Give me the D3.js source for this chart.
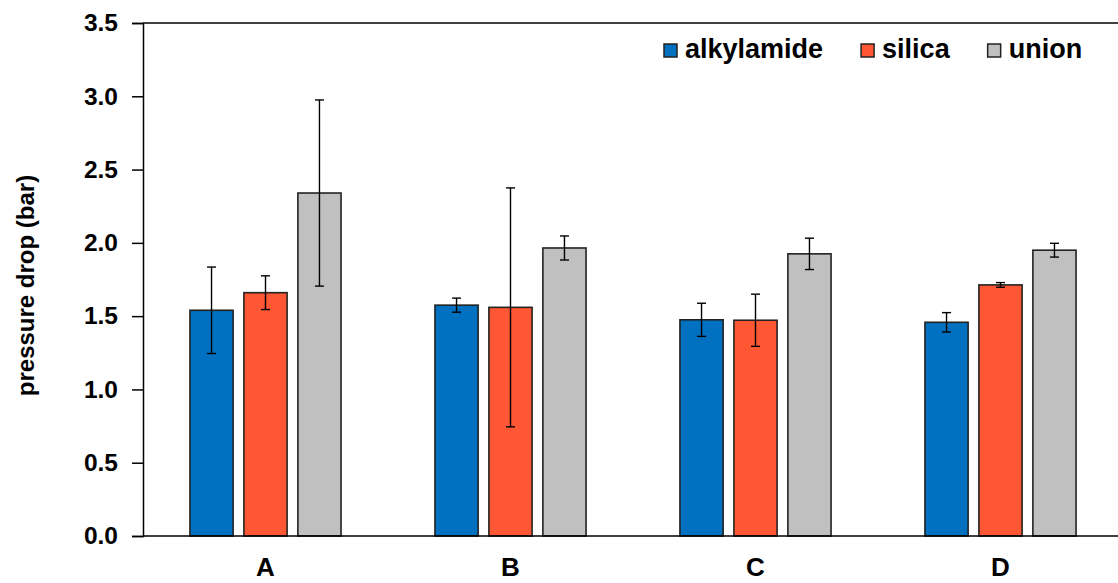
<!DOCTYPE html>
<html>
<head>
<meta charset="utf-8">
<script src="https://cdn.jsdelivr.net/npm/d3@7"></script>
<style>
  html, body { margin: 0; padding: 0; background: #fff; }
  svg { display: block; font-family: Arial, "Liberation Sans", sans-serif; font-weight: bold; }
</style>
</head>
<body>
<svg id="chart" width="1118" height="583"></svg>
<script>
// Pressure drop per column, mean and error (bar)
const categories = ["A", "B", "C", "D"];
const series = ["alkylamide", "silica", "union"];
const alkylamide = [1.54, 1.575, 1.475, 1.458];
const silica     = [1.66, 1.56, 1.472, 1.713];
const union      = [2.34, 1.965, 1.925, 1.95];
const alkylamideErr = [0.295, 0.048, 0.113, 0.066];
const silicaErr     = [0.115, 0.815, 0.178, 0.016];
const unionErr      = [0.635, 0.082, 0.107, 0.047];
const yTicks = [0, 0.5, 1.0, 1.5, 2.0, 2.5, 3.0, 3.5];
const colors = ["#0070C0", "#FF5733", "#C0C0C0"];

const valuesBySeries = [alkylamide, silica, union];
const errBySeries = [alkylamideErr, silicaErr, unionErr];

const svg = d3.select("#chart");
const plotLeft = 143, plotRight = 1123, plotTop = 23, plotBottom = 536;

const x0 = d3.scaleBand().domain(categories).range([plotLeft, plotRight]).padding(0);
const x1 = d3.scaleBand().domain(series).range([0, x0.bandwidth()])
  .paddingInner(0.2).paddingOuter(0.87);
const y = d3.scaleLinear().domain([0, 3.5]).range([plotBottom, plotTop]);

// frame: top border
svg.append("line").attr("x1", plotLeft).attr("x2", 1118).attr("y1", plotTop).attr("y2", plotTop)
  .attr("stroke", "#000").attr("stroke-width", 1.5);

// bars
const rows = [];
categories.forEach((c, i) => {
  series.forEach((s, j) => {
    rows.push({ cat: c, ser: s, j, v: valuesBySeries[j][i], e: errBySeries[j][i] });
  });
});

svg.append("g").selectAll("rect").data(rows).join("rect")
  .attr("x", d => x0(d.cat) + x1(d.ser))
  .attr("y", d => y(d.v))
  .attr("width", x1.bandwidth())
  .attr("height", d => y(0) - y(d.v))
  .attr("fill", d => colors[d.j])
  .attr("stroke", "#222")
  .attr("stroke-width", 1.6);

// error bars
const eb = svg.append("g").attr("stroke", "#000").attr("stroke-width", 1.4);
const cx = d => x0(d.cat) + x1(d.ser) + x1.bandwidth() / 2;
eb.selectAll("line.v").data(rows).join("line").attr("class", "v")
  .attr("x1", cx).attr("x2", cx)
  .attr("y1", d => y(d.v + d.e)).attr("y2", d => y(d.v - d.e));
eb.selectAll("line.t").data(rows).join("line").attr("class", "t")
  .attr("x1", d => cx(d) - 4.5).attr("x2", d => cx(d) + 4.5)
  .attr("y1", d => y(d.v + d.e)).attr("y2", d => y(d.v + d.e));
eb.selectAll("line.b").data(rows).join("line").attr("class", "b")
  .attr("x1", d => cx(d) - 4.5).attr("x2", d => cx(d) + 4.5)
  .attr("y1", d => y(d.v - d.e)).attr("y2", d => y(d.v - d.e));

// y axis
const yAxis = svg.append("g").attr("transform", `translate(${plotLeft},0)`)
  .call(d3.axisLeft(y).tickValues(yTicks).tickFormat(d3.format(".1f"))
    .tickSize(11).tickPadding(14));
yAxis.select(".domain").attr("stroke", "#000").attr("stroke-width", 1.5);
yAxis.selectAll(".tick line").attr("stroke", "#000").attr("stroke-width", 1.5);
yAxis.selectAll(".tick text").attr("font-size", 24.5).attr("font-weight", "bold")
  .attr("fill", "#000").attr("font-family", "Arial, 'Liberation Sans', sans-serif");

// x axis
const xAxis = svg.append("g").attr("transform", `translate(0,${plotBottom})`)
  .call(d3.axisBottom(x0).tickSize(0).tickPadding(22));
xAxis.select(".domain").attr("d", `M${plotLeft},0H1118`).attr("stroke", "#000").attr("stroke-width", 1.5);
xAxis.selectAll(".tick text").attr("font-size", 26).attr("font-weight", "bold")
  .attr("fill", "#000").attr("font-family", "Arial, 'Liberation Sans', sans-serif");

// y axis title
svg.append("text")
  .attr("transform", `translate(34,${(plotTop + plotBottom) / 2 + 6}) rotate(-90)`)
  .attr("text-anchor", "middle")
  .attr("font-size", 24)
  .text("pressure drop (bar)");

// legend
const legend = svg.append("g");
let lx = 664;
series.forEach((s, j) => {
  legend.append("rect").attr("x", lx).attr("y", 44).attr("width", 13).attr("height", 13)
    .attr("fill", colors[j]).attr("stroke", "#222").attr("stroke-width", 1.5);
  const t = legend.append("text").attr("x", lx + 21).attr("y", 58)
    .attr("font-size", 27).text(s);
  lx += 21 + t.node().getComputedTextLength() + 38;
});
</script>
</body>
</html>
